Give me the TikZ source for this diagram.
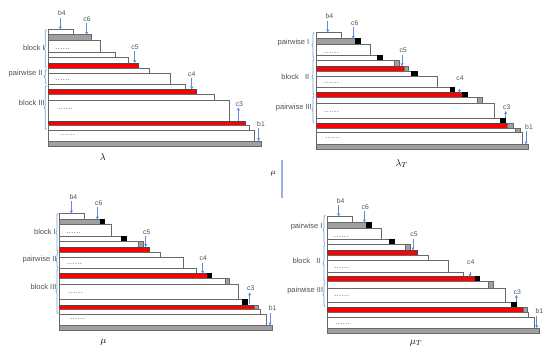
\documentclass[tikz,border=0pt]{standalone}
\usepackage{fontspec}
\setsansfont{Liberation Sans}
\usetikzlibrary{arrows.meta,decorations.pathreplacing}
\definecolor{edge}{RGB}{105,105,105}
\definecolor{gfill}{RGB}{160,160,160}
\definecolor{arrblue}{RGB}{90,140,215}
\definecolor{brblue}{RGB}{125,160,215}
\definecolor{txt}{RGB}{80,80,80}
\newcommand\PL{0}
\newcommand\myrow[4][wbox]{\draw[#1] (\PL,#2) rectangle (#4,#3);}
\newcommand\mysq[5][bsq]{\draw[#1] (#2,#3) rectangle (#4,#5);}
\tikzset{
  wbox/.style={draw=edge,fill=white,line width=0.7pt},
  gbox/.style={draw=edge,fill=gfill,line width=0.7pt},
  rbox/.style={draw=edge!70!black,fill=red,line width=0.7pt},
  bsq/.style={draw=black,fill=black,line width=0.5pt},
  gsq/.style={draw=edge,fill=gfill,line width=0.5pt},
  clbl/.style={font=\sffamily\fontsize{6.8}{6.8}\selectfont,text=txt,inner sep=0pt},
  blbl/.style={font=\sffamily\fontsize{7.5}{7.5}\selectfont,text=txt,inner sep=0pt,anchor=east},
  dotst/.style={font=\sffamily\fontsize{9}{9}\selectfont,text=gray,inner sep=0pt,anchor=base west},
  arr/.style={draw=arrblue,line width=0.6pt,-{Stealth[length=3pt,width=3.2pt]}},
  brc/.style={draw=brblue,line width=0.8pt,decorate,decoration={brace,amplitude=2pt}},
  capt/.style={font=\fontsize{10}{10}\selectfont,inner sep=0pt}
}
\begin{document}
\begin{tikzpicture}[x=1pt,y=-1pt]
\useasboundingbox (0,0) rectangle (554,349);
% ================= lambda =================
\renewcommand\PL{48.7}
\myrow{29.3}{34.7}{73.3}
\myrow[gbox]{34.7}{40.3}{91.7}
\myrow{40.3}{52.3}{100.3}
\myrow{52.3}{57.3}{115.3}
\myrow{57.3}{63}{128.3}
\myrow[rbox]{63}{68}{138.7}
\myrow{68}{73}{149.3}
\myrow{73}{84.7}{170}
\myrow{84.7}{89.3}{185.7}
\myrow[rbox]{89.3}{94.7}{196.7}
\myrow{94.7}{100}{214.7}
\myrow{100}{121}{229.3}
\myrow[rbox]{121}{125.7}{245}
\myrow{125.7}{130.7}{249}
\myrow{130.7}{141}{254}
\myrow[gbox]{141}{146}{261.7}
\node[dotst] (la1) at (55,49.8) {......};
\node[dotst] (la2) at (55,80) {......};
\node[dotst] (la3) at (58,109.4) {......};
\node[dotst] (la4) at (60,135.8) {......};
\node[clbl] (lb4) at (62,13.3) {b4};
\node[clbl] (lc6) at (87,19) {c6};
\node[clbl] (lc5) at (135,46.7) {c5};
\node[clbl] (lc4) at (191.7,74) {c4};
\node[clbl] (lc3) at (239.3,104) {c3};
\node[clbl] (lb1) at (261,124) {b1};
\draw[arr] (60.3,18) -- (60.3,29.3);
\draw[arr] (86.7,23) -- (86.7,34.7);
\draw[arr] (134.7,51) -- (134.7,63);
\draw[arr] (191.7,78) -- (191.7,89.3);
\draw[arr] (238.3,121) -- (238.3,107.5);
\draw[arr] (258.7,128) -- (258.7,141);
\draw[brc] (46.3,68) -- (46.3,29.3);
\draw[brc] (46.3,84) -- (46.3,69);
\draw[brc] (46.3,130) -- (46.3,85);
\node[blbl] (lbI) at (45,47.7) {block I};
\node[blbl] (lpII) at (42.7,73.3) {pairwise II};
\node[blbl] (lbIII) at (45,102.7) {block III};
\node[capt] (lcap) at (102.7,156.7) {$\lambda$};
% ================= lambda_T =================
\renewcommand\PL{316.3}
\myrow{32.3}{38.7}{341}
\myrow[gbox]{38.7}{44.3}{355.3}\mysq{355.3}{38.7}{360.7}{44.3}
\myrow{44.3}{55}{370.3}
\myrow{55}{60.3}{377.7}\mysq{377.7}{55}{382.3}{60.3}
\myrow{60.3}{66}{394.3}\mysq[gsq]{394.3}{60.3}{399}{66}
\myrow[rbox]{66}{71}{404}\mysq[gsq]{404}{66}{408.3}{71}
\myrow{71}{76.3}{411.3}\mysq{411.3}{71}{417}{76.3}
\myrow{76.3}{87.3}{437}
\myrow{87.3}{92.7}{450.3}\mysq{450.3}{87.3}{454.7}{92.7}
\myrow[rbox]{92.7}{97.7}{462}\mysq{462}{92.7}{467}{97.7}
\myrow{97.7}{103.7}{477.3}\mysq[gsq]{477.3}{97.7}{482.7}{103.7}
\myrow{103.7}{118.3}{494.7}
\myrow{118.3}{123.3}{500}\mysq{500}{118.3}{505.3}{123.3}
\myrow[rbox]{123.3}{128.3}{507.7}\mysq[gsq]{507.7}{123.3}{513.3}{128.3}
\myrow{128.3}{132.3}{515.3}\mysq[gsq]{515.3}{128.3}{520.3}{132.3}
\myrow{132.3}{144.3}{522.3}
\myrow[gbox]{144.3}{149}{528.3}
\node[dotst] (ta1) at (324,53) {......};
\node[dotst] (ta2) at (324,83) {......};
\node[dotst] (ta3) at (324,112.4) {......};
\node[dotst] (ta4) at (325,138.4) {......};
\node[clbl] (tb4) at (329.3,16) {b4};
\node[clbl] (tc6) at (354.7,23.3) {c6};
\node[clbl] (tc5) at (403.3,50) {c5};
\node[clbl] (tc4) at (460,77.7) {c4};
\node[clbl] (tc3) at (506.7,107.3) {c3};
\node[clbl] (tb1) at (529,127) {b1};
\draw[arr] (327.7,21) -- (327.7,32.3);
\draw[arr] (353.3,27) -- (353.3,38.7);
\draw[arr] (402,55) -- (402,66);
\draw[arr] (459.3,88.5) -- (459.3,92.7);
\draw[arr] (505.7,118.3) -- (505.7,111);
\draw[arr] (526,131) -- (526,144.3);
\draw[brc] (314,58.3) -- (314,32.3);
\draw[brc] (314,95) -- (314,58.8);
\draw[brc] (314,123.3) -- (314,95.5);
\node[blbl] (tpI) at (309.5,42.7) {pairwise I};
\node[blbl] (tbII) at (309.5,77.3) {block\ \ \ II};
\node[blbl] (tpIII) at (312,107.3) {pairwise III};
\node[capt] (tcap) at (401.7,163.3) {$\lambda_T$};
% ================= middle =================
\node[font=\fontsize{8}{8}\selectfont,inner sep=0pt] (mid) at (273.3,174) {$\mu$};
\draw[draw=brblue!80,line width=1.8pt] (281.7,160) -- (281.7,198);
% ================= mu =================
\renewcommand\PL{59.3}
\myrow{213.3}{219.3}{84}
\myrow[gbox]{219.3}{224.3}{100.7}\mysq{100.7}{219.3}{104.7}{224.3}
\myrow{224.3}{236.7}{111.3}
\myrow{236.7}{241.3}{121}\mysq{121}{236.7}{126.3}{241.3}
\myrow{241.3}{247}{138.3}\mysq[gsq]{138.3}{241.3}{143.7}{247}
\myrow[rbox]{247}{252}{149.7}
\myrow{252}{257.3}{160.7}
\myrow{257.3}{268.7}{183}
\myrow{268.7}{273.7}{196.7}
\myrow[rbox]{273.7}{278.7}{207.3}\mysq{207.3}{273.7}{211.3}{278.7}
\myrow{278.7}{284.3}{225.3}\mysq[gsq]{225.3}{278.7}{229.7}{284.3}
\myrow{284.3}{299.3}{238.7}
\myrow{299.3}{305}{242}\mysq{242}{299.3}{247}{305}
\myrow[rbox]{305}{309.7}{254.3}\mysq[gsq]{254.3}{305}{258.7}{309.7}
\myrow{309.7}{314.3}{260.7}
\myrow{314.3}{325.3}{266.7}
\myrow[gbox]{325.3}{330.3}{272.7}
\node[dotst] (ma1) at (66,233.4) {......};
\node[dotst] (ma2) at (67,264) {......};
\node[dotst] (ma3) at (68,293.4) {......};
\node[dotst] (ma4) at (70,319.7) {......};
\node[clbl] (mb4) at (73.3,196.7) {b4};
\node[clbl] (mc6) at (98.7,203.3) {c6};
\node[clbl] (mc5) at (146.7,231.7) {c5};
\node[clbl] (mc4) at (203.3,258.3) {c4};
\node[clbl] (mc3) at (250.7,288.3) {c3};
\node[clbl] (mb1) at (272.7,308.3) {b1};
\draw[arr] (71.3,201) -- (71.3,213.3);
\draw[arr] (97.3,207) -- (97.3,219.3);
\draw[arr] (145.7,236) -- (145.7,247);
\draw[arr] (202.7,263) -- (202.7,273.7);
\draw[arr] (249.7,303.5) -- (249.7,292.5);
\draw[arr] (270,313) -- (270,325.3);
\draw[brc] (58,251.7) -- (58,213.3);
\draw[brc] (58,268) -- (58,252.2);
\draw[brc] (58,314) -- (58,268.6);
\node[blbl] (mbI) at (56,232.3) {block I};
\node[blbl] (mpII) at (56.7,259.3) {pairwise II};
\node[blbl] (mbIII) at (56.7,287.3) {block III};
\node[capt] (mcap) at (103.3,342.7) {$\mu$};
% ================= mu_T =================
\renewcommand\PL{327.7}
\myrow{216.3}{222.3}{352.3}
\myrow[gbox]{222.3}{228}{366.7}\mysq{366.7}{222.3}{371.7}{228}
\myrow{228}{239.3}{381.7}
\myrow{239.3}{244.7}{389}\mysq{389}{239.3}{394.3}{244.7}
\myrow{244.7}{250.3}{405.3}\mysq[gsq]{405.3}{244.7}{410}{250.3}
\myrow[rbox]{250.3}{255.3}{417.7}
\myrow{255.3}{260.3}{428.3}
\myrow{260.3}{272.3}{448.3}
\myrow{272.3}{276.7}{463.3}
\myrow[rbox]{276.7}{281.3}{475}\mysq{475}{276.7}{479.3}{281.3}
\myrow{281.3}{288}{488.3}\mysq[gsq]{488.3}{281.3}{493.7}{288}
\myrow{288}{302.3}{505.7}
\myrow{302.3}{307.3}{511}\mysq{511}{302.3}{516}{307.3}
\myrow[rbox]{307.3}{312.3}{523.7}\mysq[gsq]{523.7}{307.3}{527}{312.3}
\myrow{312.3}{317}{528.3}
\myrow{317}{328}{534}
\myrow[gbox]{328}{333.7}{539.3}
\node[dotst] (ua1) at (333.5,237) {......};
\node[dotst] (ua2) at (334,268) {......};
\node[dotst] (ua3) at (334,296.7) {......};
\node[dotst] (ua4) at (335,324) {......};
\node[clbl] (ub4) at (340.7,200.7) {b4};
\node[clbl] (uc6) at (365.3,206.7) {c6};
\node[clbl] (uc5) at (414,234) {c5};
\node[clbl] (uc4) at (470.7,261.7) {c4};
\node[clbl] (uc3) at (517.3,291.7) {c3};
\node[clbl] (ub1) at (539.3,311) {b1};
\draw[arr] (338.7,205) -- (338.7,216.3);
\draw[arr] (364.3,211) -- (364.3,222.3);
\draw[arr] (413,239) -- (413,250.3);
\draw[arr] (470,272) -- (470,276.7);
\draw[arr] (516.3,302.3) -- (516.3,295);
\draw[arr] (536.7,316) -- (536.7,328);
\draw[brc] (325,244.3) -- (325,215);
\draw[brc] (325,282.3) -- (325,244.8);
\draw[brc] (325,306.7) -- (325,282.8);
\node[blbl] (upI) at (322.7,226.7) {pairwise I};
\node[blbl] (ubII) at (320.7,260.7) {block\ \ \ II};
\node[blbl] (upIII) at (323.3,291) {pairwise III};
\node[capt] (ucap) at (416,343.3) {$\mu_T$};
\end{tikzpicture}
\end{document}
